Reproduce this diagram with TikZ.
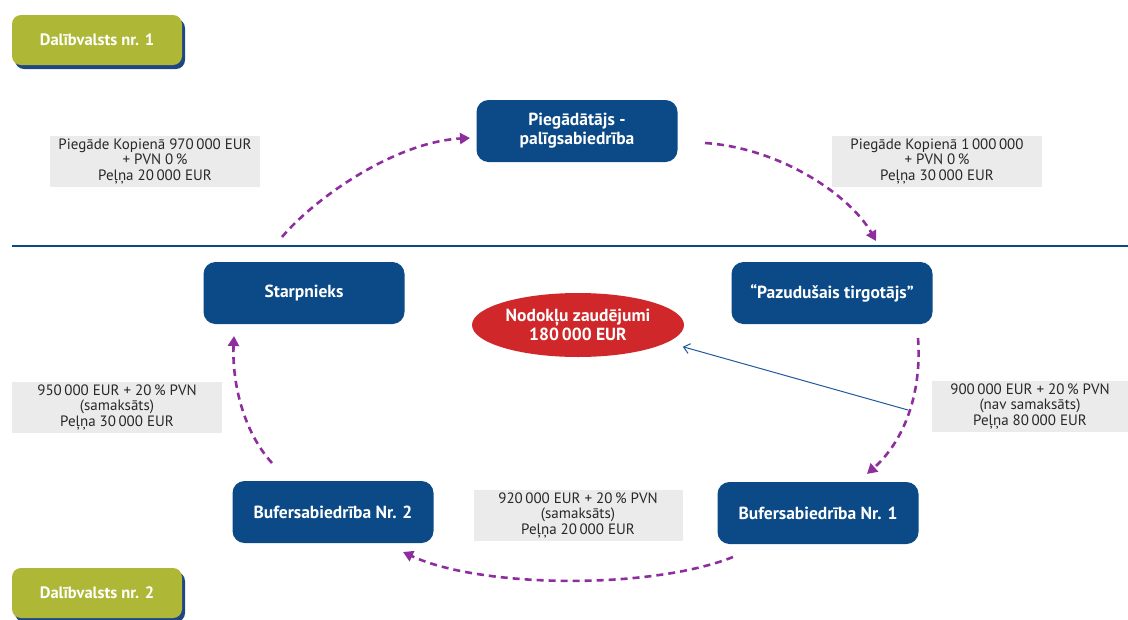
\documentclass[tikz,border=0pt]{standalone}
\usepackage{fontspec}
\setmainfont{PT Sans}
\usetikzlibrary{arrows.meta,shapes.geometric}
\definecolor{boxblue}{RGB}{11,74,135}
\definecolor{shadowblue}{RGB}{30,70,130}
\definecolor{mgreen}{RGB}{174,184,54}
\definecolor{mred}{RGB}{208,40,42}
\definecolor{mpurple}{RGB}{142,46,158}
\definecolor{lgray}{RGB}{235,235,235}
\definecolor{lineblue}{RGB}{31,90,154}
\definecolor{txtgray}{RGB}{40,40,40}
\begin{document}
\begin{tikzpicture}[x=1pt,y=-1pt,
  entity/.style={fill=boxblue,rounded corners=12pt,minimum width=201pt,minimum height=62pt,
    text=white,font=\fontsize{17.5}{19}\selectfont\bfseries,align=center,inner sep=0pt},
  state/.style={fill=mgreen,rounded corners=9pt,minimum width=170pt,minimum height=50pt,
    text=white,font=\fontsize{16.5}{18}\selectfont\bfseries,inner sep=0pt},
  stateshadow/.style={fill=shadowblue,rounded corners=9pt,minimum width=170pt,minimum height=50pt,inner sep=0pt},
  lbl/.style={fill=lgray,text=txtgray,font=\fontsize{15}{15.5}\selectfont,align=center,inner sep=0pt,
    minimum height=51pt},
  flow/.style={draw=mpurple,line width=2.6pt,dash pattern=on 7pt off 5pt,
    -{Triangle[length=10pt,width=11pt]}},
  loss/.style={ellipse,fill=mred,minimum width=212pt,minimum height=64pt,inner sep=0pt,
    text=white,font=\fontsize{17.5}{17}\selectfont\bfseries,align=center},
  border/.style={draw=boxblue,line width=1.6pt}]
\useasboundingbox (0,0) rectangle (1128,619);

% member states
\node[stateshadow] (m1s) at (100,44) {};
\node[state] (m1) at (97,40) {Dalībvalsts nr. 1};
\node[stateshadow] (m2s) at (100,597) {};
\node[state] (m2) at (97,593) {Dalībvalsts nr. 2};

% border line
\coordinate (bl) at (12,246);
\coordinate (br) at (1128,246);
\draw[border] (bl) -- (br);

% entities
\node[entity] (sup) at (577,131) {Piegādātājs -\\palīgsabiedrība};
\node[entity] (mt) at (832,293) {“Pazudušais tirgotājs”};
\node[entity] (sp) at (304,293) {Starpnieks};
\node[entity] (b2) at (333,512) {Bufersabiedrība Nr. 2};
\node[entity] (b1) at (818,513) {Bufersabiedrība Nr. 1};

% loss
\node[loss] (tl) at (578,325) {Nodokļu zaudējumi\\180\,000 EUR};

% labels
\node[lbl,minimum width=210pt] (l1) at (155,161) {Piegāde Kopienā 970\,000 EUR\\+ PVN 0\,\%\\Peļņa 20\,000 EUR};
\node[lbl,minimum width=210pt] (l2) at (937,161) {Piegāde Kopienā 1\,000\,000\\+ PVN 0\,\%\\Peļņa 30\,000 EUR};
\node[lbl,minimum width=210pt] (l3) at (117,407) {950\,000 EUR + 20\,\% PVN\\(samaksāts)\\Peļņa 30\,000 EUR};
\node[lbl,minimum width=196pt] (l4) at (1030,406) {900\,000 EUR + 20\,\% PVN\\(nav samaksāts)\\Peļņa 80\,000 EUR};
\node[lbl,minimum width=209pt] (l5) at (578,515) {920\,000 EUR + 20\,\% PVN\\(samaksāts)\\Peļņa 20\,000 EUR};

% flow endpoints
\coordinate (a1s) at (282,237);
\coordinate (a1e) at (470,138);
\coordinate (a2s) at (705,143);
\coordinate (a2e) at (876,241);
\coordinate (a3s) at (918,338);
\coordinate (a3e) at (867,474);
\coordinate (a4s) at (733,557);
\coordinate (a4e) at (403,552);
\coordinate (a5s) at (272,463);
\coordinate (a5e) at (234,336);
\coordinate (bs) at (908,410);

\draw[flow] (a1s) .. controls (315,198) and (395,142) .. (a1e);
\draw[flow] (a2s) .. controls (780,148) and (850,195) .. (a2e);
\draw[flow] (a3s) .. controls (922,392) and (905,440) .. (a3e);
\draw[flow] (a4s) .. controls (650,590) and (480,588) .. (a4e);
\draw[flow] (a5s) .. controls (242,430) and (232,380) .. (a5e);

\draw[lineblue,line width=1pt,shorten >=16pt,-{Straight Barb[length=6pt,width=10pt]}] (bs) -- (tl.-11);
\end{tikzpicture}
\end{document}
